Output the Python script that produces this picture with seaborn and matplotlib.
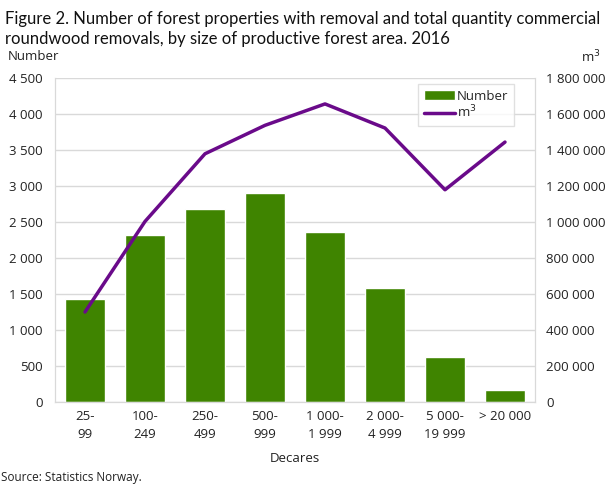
import matplotlib
matplotlib.use("Agg")
from matplotlib import pyplot as plt
import pandas as pd
import seaborn as sns

# values
categories = ["25-\n99", "100-\n249", "250-\n499", "500-\n999", "1 000-\n1 999",
              "2 000-\n4 999", "5 000-\n19 999", "> 20 000"]
number = [1433, 2322, 2685, 2905, 2366, 1588, 629, 171]
m3 = [500000, 1003000, 1379000, 1537000, 1656000, 1522000, 1179000, 1444000]

left_ticks = list(range(0, 4501, 500))
right_ticks = list(range(0, 1800001, 200000))

green = "#3f8400"
purple = "#6a0a8a"
grid_col = "#d9d9d9"
text_col = "#222222"


def fmt(v):
    return f"{v:,}".replace(",", " ")


df = pd.DataFrame({"size": categories, "Number": number, "m3": m3})

sns.set_style("white")
plt.rcParams["font.family"] = ["Open Sans", "DejaVu Sans"]

fig = plt.figure(figsize=(6.1, 4.88), dpi=100)
ax = fig.add_axes([55 / 610, 1 - 402 / 488, 480 / 610, 324 / 488])

sns.barplot(data=df, x="size", y="Number", color=green, width=0.68,
            saturation=1, ax=ax, label="Number", zorder=2)
ax.set_ylim(0, 4500)
ax.set_yticks(left_ticks)
ax.set_yticklabels([fmt(v) for v in left_ticks], fontsize=9.5, color=text_col)
ax.yaxis.grid(True, color=grid_col, linewidth=1, zorder=0)
ax.set_axisbelow(True)
ax.set_xlabel("Decares", fontsize=9.5, color=text_col, labelpad=8)
ax.set_ylabel("")
ax.tick_params(axis="x", labelsize=9.5, colors=text_col, length=0, pad=6)
ax.tick_params(axis="y", length=0, pad=9)
for lab in ax.get_xticklabels():
    lab.set_linespacing(1.5)
for sp in ax.spines.values():
    sp.set_color(grid_col)
ax.spines["top"].set_visible(False)

ax2 = ax.twinx()
sns.lineplot(x=list(range(len(categories))), y=m3, color=purple, linewidth=2.5,
             ax=ax2, label="m$^3$", legend=False)
ax2.set_ylim(0, 1800000)
ax2.set_yticks(right_ticks)
ax2.set_yticklabels([fmt(v) for v in right_ticks], fontsize=9.5, color=text_col)
ax2.tick_params(axis="y", length=0, pad=8)
for sp in ax2.spines.values():
    sp.set_color(grid_col)
ax2.spines["top"].set_visible(False)
ax.set_xlim(-0.5, len(categories) - 0.5)

h1, l1 = ax.get_legend_handles_labels()
h2, l2 = ax2.get_legend_handles_labels()
if ax.get_legend():
    ax.get_legend().remove()
leg = ax2.legend(h1 + h2, l1 + l2, loc="upper right", bbox_to_anchor=(0.965, 0.995),
                 fontsize=9.5, frameon=True, fancybox=False, edgecolor=grid_col,
                 handlelength=2.4, handletextpad=0.1, borderpad=0.45,
                 labelspacing=0.1, borderaxespad=0.3)
leg.get_frame().set_linewidth(1)

fig.text(0.008, 0.978, "Figure 2. Number of forest properties with removal and total quantity commercial\n"
         "roundwood removals, by size of productive forest area. 2016",
         fontsize=12, color="#111111", va="top", ha="left", linespacing=1.3,
         family=["Lato", "Open Sans"])
fig.text(0.013, 1 - 57 / 488, "Number", fontsize=9.5, color=text_col, va="center")
fig.text(0.985, 1 - 57 / 488, "m$^3$", fontsize=9.5, color=text_col, va="center", ha="right")
fig.text(0.002, 1 - 478 / 488, "Source: Statistics Norway.", fontsize=8.5, color=text_col, va="center")

fig.savefig("out.png", dpi=100)
